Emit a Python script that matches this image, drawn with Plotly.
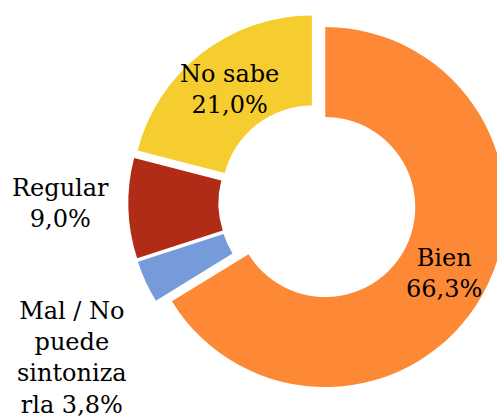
import plotly.graph_objects as go

# Data
categories = ["Bien", "Mal / No puede sintonizarla", "Regular", "No sabe"]
values = [66.3, 3.8, 9.0, 21.0]
pct_labels = ["66,3%", "3,8%", "9,0%", "21,0%"]
colors = ["#FD8936", "#769BDB", "#B02C16", "#F5CD2F"]
# label text as shown (wrapped like the original)
label_texts = ["Bien", "Mal / No<br>puede<br>sintoniza<br>rla", "Regular", "No sabe"]
label_sep = ["<br>", " ", "<br>", "<br>"]

W, H = 507, 418
FONT = "DejaVu Serif"

fig = go.Figure(
    go.Pie(
        labels=categories,
        values=values,
        textinfo="none",
        marker=dict(colors=colors, line=dict(width=0)),
        hole=0.5,
        pull=[0.05] * 4,
        sort=False,
        direction="clockwise",
        rotation=0,
        showlegend=False,
        hoverinfo="label+percent",
        domain=dict(x=[128.4 / W, 506.4 / W], y=[(H - 391.7) / H, (H - 13.7) / H]),
    )
)

# label placement (pixel centres)
label_pos = [(443.5, 273), (72, 358), (60, 203), (229.5, 89.5)]
for txt, sep, pct, (px, py) in zip(label_texts, label_sep, pct_labels, label_pos):
    fig.add_annotation(
        x=px / W, y=1 - py / H, xref="paper", yref="paper",
        text=f"{txt}{sep}{pct}", showarrow=False,
        font=dict(family=FONT, size=24, color="black"),
        xanchor="center", yanchor="middle", align="center",
    )

fig.update_layout(
    width=W, height=H,
    margin=dict(l=0, r=0, t=0, b=0),
    paper_bgcolor="white", plot_bgcolor="white",
    font=dict(family=FONT, color="black"),
)

fig.write_html("out.html", post_script="document.body.style.margin='0';document.body.style.overflow='hidden';")
